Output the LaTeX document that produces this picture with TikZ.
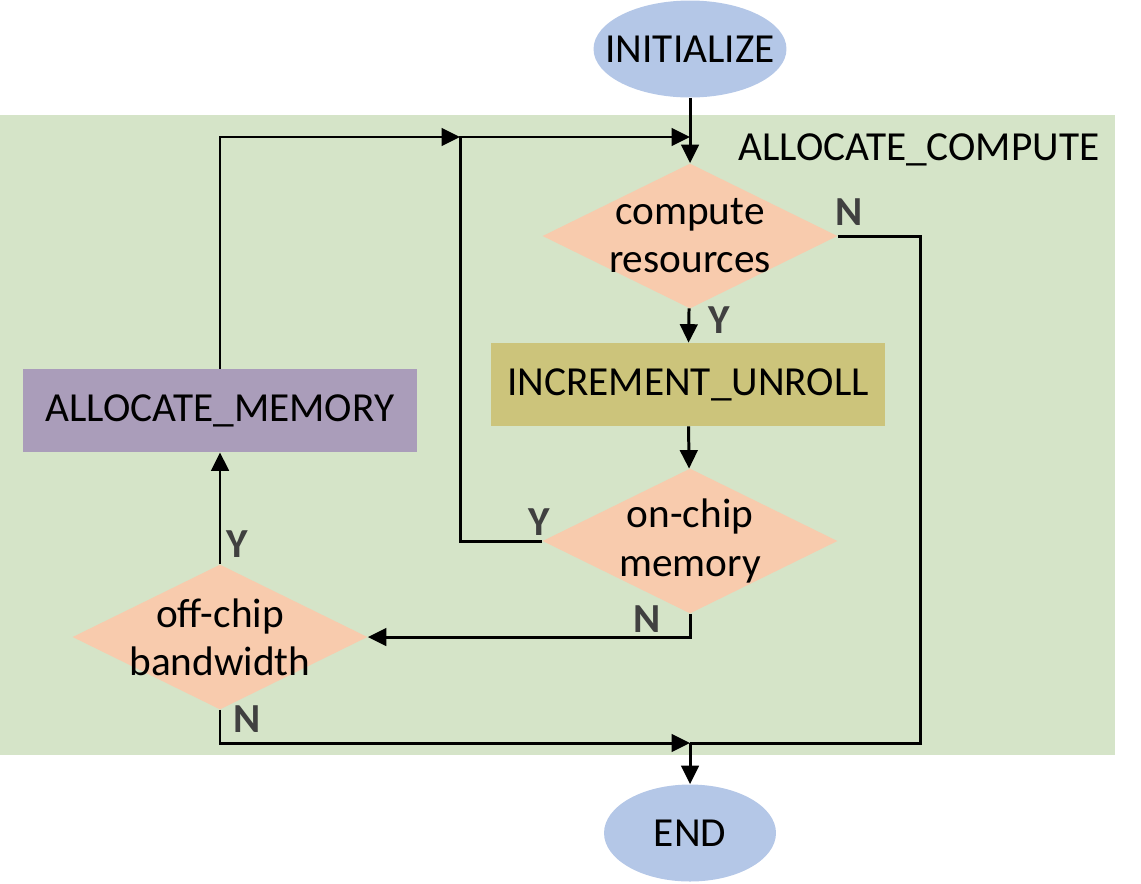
\documentclass[tikz,border=0pt]{standalone}
\usepackage{fontspec}
\setmainfont{Carlito}
\usetikzlibrary{arrows.meta,shapes.geometric}

\definecolor{bggreen}{HTML}{D5E4C8}
\definecolor{termblue}{HTML}{B4C7E7}
\definecolor{testorange}{HTML}{F8CBAD}
\definecolor{incrolive}{HTML}{CCC47B}
\definecolor{memviolet}{HTML}{AA9DBA}
\definecolor{yngray}{HTML}{404040}

\begin{document}
\begin{tikzpicture}[
    x=0.02cm, y=-0.02cm,
    every node/.style={font=\fontsize{23.5}{27.4}\selectfont},
    term/.style={ellipse, fill=termblue, minimum width=3.86cm, minimum height=1.94cm, inner xsep=-14pt, inner ysep=0pt},
    test/.style={diamond, fill=testorange, shape aspect=2, minimum width=5.9cm, minimum height=2.9cm, inner sep=-10pt, align=center},
    act/.style={rectangle, minimum width=7.88cm, minimum height=1.66cm, inner sep=0pt},
    line/.style={-{Triangle[length=3.7mm, width=3.5mm]}, line width=1.7pt},
    flow/.style={line width=1.7pt},
    yn/.style={font=\fontsize{23.5}{27.4}\selectfont\bfseries, text=yngray, anchor=base west, inner sep=0pt},
  ]
  \useasboundingbox (0,0) rectangle (1141,883);
  \fill[bggreen] (0,115) rectangle (1115,755);
  \node[anchor=base west, inner sep=0pt] (region) at (738,160) {ALLOCATE\_COMPUTE};

  \node[term] (init) at (690,49) {INITIALIZE};
  \node[test] (cres) at (690,236) {compute\\resources};
  \node[act, fill=incrolive] (incr) at (688,384.5) {INCREMENT\_UNROLL};
  \node[test] (onchip) at (690,541) {on-chip\\memory};
  \node[act, fill=memviolet] (amem) at (220,410.5) {ALLOCATE\_MEMORY};
  \node[test] (offchip) at (220,637) {off-chip\\bandwidth};
  \node[term, minimum width=3.44cm] (fin) at (690,833) {END};

  \coordinate (jtop) at (690,137);
  \coordinate (jmid) at (460,137);
  \coordinate (jbot) at (690,743);

  \draw[line] (init) -- (cres);
  \draw[line] (cres) -- (incr);
  \draw[line] (incr) -- (onchip);
  \draw[line] (onchip.west) -| (jmid) -- (jtop);
  \draw[line] (amem.north) |- (jmid);
  \draw[flow] (cres.east) -| (920,743) -- (jbot);
  \draw[line] (onchip.south) |- (offchip.east);
  \draw[line] (offchip.north) -- (amem.south);
  \draw[line] (offchip.south) |- (jbot);
  \draw[line] (jbot) -- (fin);

  \node[yn] (ycres) at (708,333) {Y};
  \node[yn] (ncres) at (835,225) {N};
  \node[yn] (yon) at (528,535) {Y};
  \node[yn] (non) at (633,632) {N};
  \node[yn] (yoff) at (226,557) {Y};
  \node[yn] (noff) at (233,732) {N};
\end{tikzpicture}
\end{document}
